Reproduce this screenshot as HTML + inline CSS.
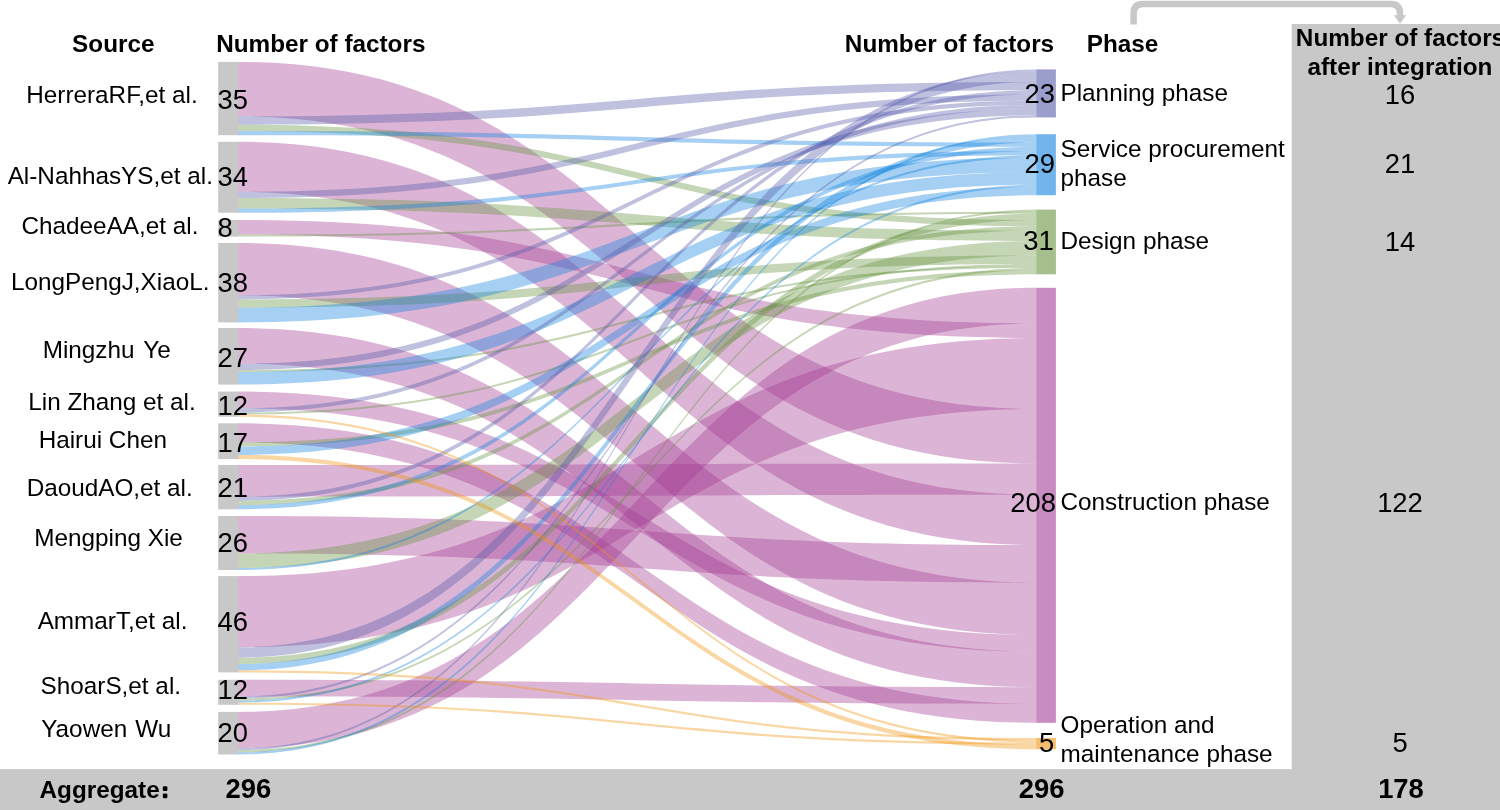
<!DOCTYPE html>
<html><head><meta charset="utf-8"><title>Sankey</title>
<style>html,body{margin:0;padding:0;background:#fff;}body{width:1500px;height:810px;overflow:hidden;font-family:"Liberation Sans", sans-serif;}svg{display:block;will-change:transform;}text{font-family:"Liberation Sans", sans-serif;fill:#000;}.b{font-weight:bold;}</style>
</head><body>
<svg width="1500" height="810" viewBox="0 0 1500 810">
<rect x="0" y="0" width="1500" height="810" fill="#ffffff"/>
<rect x="1291.7" y="24" width="208.3" height="786" fill="#c8c8c8"/>
<rect x="0" y="769.1" width="1500" height="40.9" fill="#c8c8c8"/>
<path d="M1133.6,24.5V13.5Q1133.6,4.1 1143,4.1H1390.6Q1400,4.1 1400,13.5V16" fill="none" stroke="#c8c8c8" stroke-width="6.5"/>
<path d="M1393.8,15.2H1406.2L1400,23.8Z" fill="#c8c8c8"/>
<g opacity="1" fill-opacity="0.38">
<path d="M237.9,61.9C637.35,61.9 637.35,409.1 1036.8,409.1L1036.8,463.47C637.35,463.47 637.35,116.35 237.9,116.35Z" fill="#a33c93"/>
<path d="M237.9,141.8C637.35,141.8 637.35,494.84 1036.8,494.84L1036.8,545.04C637.35,545.04 637.35,191.85 237.9,191.85Z" fill="#a33c93"/>
<path d="M237.9,219.9C637.35,219.9 637.35,323.35 1036.8,323.35L1036.8,337.99C637.35,337.99 637.35,234.51 237.9,234.51Z" fill="#a33c93"/>
<path d="M237.9,243C637.35,243 637.35,582.68 1036.8,582.68L1036.8,634.96C637.35,634.96 637.35,295.24 237.9,295.24Z" fill="#a33c93"/>
<path d="M237.9,328C637.35,328 637.35,651.69 1036.8,651.69L1036.8,687.25C637.35,687.25 637.35,363.64 237.9,363.64Z" fill="#a33c93"/>
<path d="M237.9,391.6C637.35,391.6 637.35,634.96 1036.8,634.96L1036.8,651.69C637.35,651.69 637.35,408.33 237.9,408.33Z" fill="#a33c93"/>
<path d="M237.9,423.3C637.35,423.3 637.35,703.98 1036.8,703.98L1036.8,722.8C637.35,722.8 637.35,442.25 237.9,442.25Z" fill="#a33c93"/>
<path d="M237.9,465C637.35,465 637.35,463.47 1036.8,463.47L1036.8,494.84C637.35,494.84 637.35,496.64 237.9,496.64Z" fill="#a33c93"/>
<path d="M237.9,516C637.35,516 637.35,545.04 1036.8,545.04L1036.8,582.68C637.35,582.68 637.35,553.38 237.9,553.38Z" fill="#a33c93"/>
<path d="M237.9,576.1C637.35,576.1 637.35,337.99 1036.8,337.99L1036.8,409.1C637.35,409.1 637.35,647.28 237.9,647.28Z" fill="#a33c93"/>
<path d="M237.9,679.8C637.35,679.8 637.35,687.25 1036.8,687.25L1036.8,703.98C637.35,703.98 637.35,696.47 237.9,696.47Z" fill="#a33c93"/>
<path d="M237.9,711.9C637.35,711.9 637.35,287.8 1036.8,287.8L1036.8,323.35C637.35,323.35 637.35,748.11 237.9,748.11Z" fill="#a33c93"/>
<path d="M237.9,124.73C637.35,124.73 637.35,220.04 1036.8,220.04L1036.8,226.3C637.35,226.3 637.35,131.01 237.9,131.01Z" fill="#67933f"/>
<path d="M237.9,198.1C637.35,198.1 637.35,230.47 1036.8,230.47L1036.8,240.91C637.35,240.91 637.35,208.53 237.9,208.53Z" fill="#67933f"/>
<path d="M237.9,234.51C637.35,234.51 637.35,211.69 1036.8,211.69L1036.8,213.77C637.35,213.77 637.35,236.6 237.9,236.6Z" fill="#67933f"/>
<path d="M237.9,299.42C637.35,299.42 637.35,255.52 1036.8,255.52L1036.8,263.86C637.35,263.86 637.35,307.77 237.9,307.77Z" fill="#67933f"/>
<path d="M237.9,369.93C637.35,369.93 637.35,265.95 1036.8,265.95L1036.8,268.04C637.35,268.04 637.35,372.02 237.9,372.02Z" fill="#67933f"/>
<path d="M237.9,412.52C637.35,412.52 637.35,263.86 1036.8,263.86L1036.8,265.95C637.35,265.95 637.35,414.61 237.9,414.61Z" fill="#67933f"/>
<path d="M237.9,442.25C637.35,442.25 637.35,270.13 1036.8,270.13L1036.8,274.3C637.35,274.3 637.35,446.46 237.9,446.46Z" fill="#67933f"/>
<path d="M237.9,500.86C637.35,500.86 637.35,226.3 1036.8,226.3L1036.8,230.47C637.35,230.47 637.35,505.08 237.9,505.08Z" fill="#67933f"/>
<path d="M237.9,553.38C637.35,553.38 637.35,240.91 1036.8,240.91L1036.8,255.52C637.35,255.52 637.35,567.92 237.9,567.92Z" fill="#67933f"/>
<path d="M237.9,657.75C637.35,657.75 637.35,213.77 1036.8,213.77L1036.8,220.04C637.35,220.04 637.35,664.03 237.9,664.03Z" fill="#67933f"/>
<path d="M237.9,698.55C637.35,698.55 637.35,268.04 1036.8,268.04L1036.8,270.13C637.35,270.13 637.35,700.63 237.9,700.63Z" fill="#67933f"/>
<path d="M237.9,750.24C637.35,750.24 637.35,209.6 1036.8,209.6L1036.8,211.69C637.35,211.69 637.35,752.37 237.9,752.37Z" fill="#67933f"/>
<path d="M237.9,131.01C637.35,131.01 637.35,142.61 1036.8,142.61L1036.8,146.82C637.35,146.82 637.35,135.2 237.9,135.2Z" fill="#1284df"/>
<path d="M237.9,208.53C637.35,208.53 637.35,151.03 1036.8,151.03L1036.8,155.23C637.35,155.23 637.35,212.7 237.9,212.7Z" fill="#1284df"/>
<path d="M237.9,307.77C637.35,307.77 637.35,157.34 1036.8,157.34L1036.8,172.06C637.35,172.06 637.35,322.4 237.9,322.4Z" fill="#1284df"/>
<path d="M237.9,372.02C637.35,372.02 637.35,172.06 1036.8,172.06L1036.8,184.68C637.35,184.68 637.35,384.6 237.9,384.6Z" fill="#1284df"/>
<path d="M237.9,446.46C637.35,446.46 637.35,186.79 1036.8,186.79L1036.8,195.2C637.35,195.2 637.35,454.89 237.9,454.89Z" fill="#1284df"/>
<path d="M237.9,505.08C637.35,505.08 637.35,146.82 1036.8,146.82L1036.8,151.03C637.35,151.03 637.35,509.3 237.9,509.3Z" fill="#1284df"/>
<path d="M237.9,567.92C637.35,567.92 637.35,155.23 1036.8,155.23L1036.8,157.34C637.35,157.34 637.35,570 237.9,570Z" fill="#1284df"/>
<path d="M237.9,664.03C637.35,664.03 637.35,136.3 1036.8,136.3L1036.8,142.61C637.35,142.61 637.35,670.31 237.9,670.31Z" fill="#1284df"/>
<path d="M237.9,700.63C637.35,700.63 637.35,184.68 1036.8,184.68L1036.8,186.79C637.35,186.79 637.35,702.72 237.9,702.72Z" fill="#1284df"/>
<path d="M237.9,752.37C637.35,752.37 637.35,134.2 1036.8,134.2L1036.8,136.3C637.35,136.3 637.35,754.5 237.9,754.5Z" fill="#1284df"/>
<path d="M237.9,116.35C637.35,116.35 637.35,81.92 1036.8,81.92L1036.8,90.27C637.35,90.27 637.35,124.73 237.9,124.73Z" fill="#575daa"/>
<path d="M237.9,191.85C637.35,191.85 637.35,94.44 1036.8,94.44L1036.8,100.7C637.35,100.7 637.35,198.1 237.9,198.1Z" fill="#575daa"/>
<path d="M237.9,295.24C637.35,295.24 637.35,100.7 1036.8,100.7L1036.8,104.88C637.35,104.88 637.35,299.42 237.9,299.42Z" fill="#575daa"/>
<path d="M237.9,363.64C637.35,363.64 637.35,109.05 1036.8,109.05L1036.8,115.31C637.35,115.31 637.35,369.93 237.9,369.93Z" fill="#575daa"/>
<path d="M237.9,408.33C637.35,408.33 637.35,104.88 1036.8,104.88L1036.8,109.05C637.35,109.05 637.35,412.52 237.9,412.52Z" fill="#575daa"/>
<path d="M237.9,496.64C637.35,496.64 637.35,90.27 1036.8,90.27L1036.8,94.44C637.35,94.44 637.35,500.86 237.9,500.86Z" fill="#575daa"/>
<path d="M237.9,647.28C637.35,647.28 637.35,71.49 1036.8,71.49L1036.8,81.92C637.35,81.92 637.35,657.75 237.9,657.75Z" fill="#575daa"/>
<path d="M237.9,696.47C637.35,696.47 637.35,115.31 1036.8,115.31L1036.8,117.4C637.35,117.4 637.35,698.55 237.9,698.55Z" fill="#575daa"/>
<path d="M237.9,748.11C637.35,748.11 637.35,69.4 1036.8,69.4L1036.8,71.49C637.35,71.49 637.35,750.24 237.9,750.24Z" fill="#575daa"/>
<path d="M237.9,414.61C637.35,414.61 637.35,740.24 1036.8,740.24L1036.8,742.48C637.35,742.48 637.35,416.7 237.9,416.7Z" fill="#ee930d"/>
<path d="M237.9,454.89C637.35,454.89 637.35,744.72 1036.8,744.72L1036.8,749.2C637.35,749.2 637.35,459.1 237.9,459.1Z" fill="#ee930d"/>
<path d="M237.9,670.31C637.35,670.31 637.35,738 1036.8,738L1036.8,740.24C637.35,740.24 637.35,672.4 237.9,672.4Z" fill="#ee930d"/>
<path d="M237.9,702.72C637.35,702.72 637.35,742.48 1036.8,742.48L1036.8,744.72C637.35,744.72 637.35,704.8 237.9,704.8Z" fill="#ee930d"/>
</g>
<rect x="218.2" y="61.9" width="20.2" height="73.3" fill="#c8c8c8"/>
<rect x="218.2" y="141.8" width="20.2" height="70.9" fill="#c8c8c8"/>
<rect x="218.2" y="219.9" width="20.2" height="16.7" fill="#c8c8c8"/>
<rect x="218.2" y="243" width="20.2" height="79.4" fill="#c8c8c8"/>
<rect x="218.2" y="328" width="20.2" height="56.6" fill="#c8c8c8"/>
<rect x="218.2" y="391.6" width="20.2" height="25.1" fill="#c8c8c8"/>
<rect x="218.2" y="423.3" width="20.2" height="35.8" fill="#c8c8c8"/>
<rect x="218.2" y="465" width="20.2" height="44.3" fill="#c8c8c8"/>
<rect x="218.2" y="516" width="20.2" height="54" fill="#c8c8c8"/>
<rect x="218.2" y="576.1" width="20.2" height="96.3" fill="#c8c8c8"/>
<rect x="218.2" y="679.8" width="20.2" height="25" fill="#c8c8c8"/>
<rect x="218.2" y="711.9" width="20.2" height="42.6" fill="#c8c8c8"/>
<rect x="1036.3" y="69.4" width="19.6" height="48" fill="#9a9ecc"/>
<rect x="1036.3" y="134.2" width="19.6" height="61" fill="#71b5ec"/>
<rect x="1036.3" y="209.6" width="19.6" height="64.7" fill="#a4be8c"/>
<rect x="1036.3" y="287.8" width="19.6" height="435" fill="#c88cc0"/>
<rect x="1036.3" y="738" width="19.6" height="11.2" fill="#f5be6e"/>
<text x="113.3" y="51.9" font-size="24.3" text-anchor="middle" class="b">Source</text>
<text x="320.8" y="51.9" font-size="24.3" text-anchor="middle" class="b">Number of factors</text>
<text x="949.5" y="51.9" font-size="24.3" text-anchor="middle" class="b">Number of factors</text>
<text x="1122.5" y="51.9" font-size="24.3" text-anchor="middle" class="b">Phase</text>
<text x="1400.5" y="45.9" font-size="24.3" text-anchor="middle" class="b">Number of factors</text>
<text x="1400" y="75" font-size="24.3" text-anchor="middle" class="b">after integration</text>
<text x="112" y="102.9" font-size="24.3" text-anchor="middle">HerreraRF,et al.</text>
<text x="217.5" y="108.9" font-size="27.4" text-anchor="start">35</text>
<text x="110.3" y="183.8" font-size="24.3" text-anchor="middle">Al-NahhasYS,et al.</text>
<text x="217.5" y="186.1" font-size="27.4" text-anchor="start">34</text>
<text x="110" y="234" font-size="24.3" text-anchor="middle">ChadeeAA,et al.</text>
<text x="217.5" y="236.7" font-size="27.4" text-anchor="start">8</text>
<text x="110.2" y="290" font-size="24.3" text-anchor="middle">LongPengJ,XiaoL.</text>
<text x="217.5" y="292.3" font-size="27.4" text-anchor="start">38</text>
<text word-spacing="2.4" x="106.7" y="357.8" font-size="24.3" text-anchor="middle">Mingzhu Ye</text>
<text x="217.5" y="367.2" font-size="27.4" text-anchor="start">27</text>
<text x="112" y="409.6" font-size="24.3" text-anchor="middle">Lin Zhang et al.</text>
<text x="217.5" y="414.9" font-size="27.4" text-anchor="start">12</text>
<text x="102.8" y="447.8" font-size="24.3" text-anchor="middle">Hairui Chen</text>
<text x="217.5" y="451.6" font-size="27.4" text-anchor="start">17</text>
<text x="109.7" y="495.6" font-size="24.3" text-anchor="middle">DaoudAO,et al.</text>
<text x="217.5" y="497.2" font-size="27.4" text-anchor="start">21</text>
<text x="108.6" y="546.2" font-size="24.3" text-anchor="middle">Mengping Xie</text>
<text x="217.5" y="551.6" font-size="27.4" text-anchor="start">26</text>
<text x="112.6" y="628.9" font-size="24.3" text-anchor="middle">AmmarT,et al.</text>
<text x="217.5" y="630.7" font-size="27.4" text-anchor="start">46</text>
<text x="110.8" y="694.4" font-size="24.3" text-anchor="middle">ShoarS,et al.</text>
<text x="217.5" y="699.4" font-size="27.4" text-anchor="start">12</text>
<text word-spacing="1.4" x="106.3" y="736.7" font-size="24.3" text-anchor="middle">Yaowen Wu</text>
<text x="217.5" y="741.6" font-size="27.4" text-anchor="start">20</text>
<text x="1055" y="103.3" font-size="27.4" text-anchor="end">23</text>
<text x="1060.5" y="101.4" font-size="24.3" text-anchor="start">Planning phase</text>
<text x="1055" y="172.5" font-size="27.4" text-anchor="end">29</text>
<text x="1060.5" y="156.6" font-size="24.3" text-anchor="start">Service procurement</text>
<text x="1060.5" y="185.9" font-size="24.3" text-anchor="start">phase</text>
<text x="1053.8" y="250.3" font-size="27.4" text-anchor="end">31</text>
<text x="1060.5" y="249.1" font-size="24.3" text-anchor="start">Design phase</text>
<text x="1056" y="512.1" font-size="27.4" text-anchor="end">208</text>
<text x="1060.5" y="509.7" font-size="24.3" text-anchor="start">Construction phase</text>
<text x="1054.3" y="751.8" font-size="27.4" text-anchor="end">5</text>
<text x="1060.5" y="733" font-size="24.3" text-anchor="start">Operation and</text>
<text x="1060.5" y="762.4" font-size="24.3" text-anchor="start">maintenance phase</text>
<text x="1400" y="103.6" font-size="27.4" text-anchor="middle">16</text>
<text x="1400" y="172.8" font-size="27.4" text-anchor="middle">21</text>
<text x="1400" y="250.6" font-size="27.4" text-anchor="middle">14</text>
<text x="1400" y="512.4" font-size="27.4" text-anchor="middle">122</text>
<text x="1400" y="752.1" font-size="27.4" text-anchor="middle">5</text>
<text x="39.5" y="797.5" font-size="24.3" text-anchor="start" class="b">Aggregate</text>
<rect x="162.8" y="786.3" width="4.6" height="4.6" rx="1.2" fill="#000"/><rect x="162.8" y="793.6" width="4.6" height="4.6" rx="1.2" fill="#000"/>
<text x="248.4" y="798.1" font-size="27.4" text-anchor="middle" class="b">296</text>
<text x="1041.6" y="798.1" font-size="27.4" text-anchor="middle" class="b">296</text>
<text x="1401" y="798.1" font-size="27.4" text-anchor="middle" class="b">178</text>
</svg></body></html>
